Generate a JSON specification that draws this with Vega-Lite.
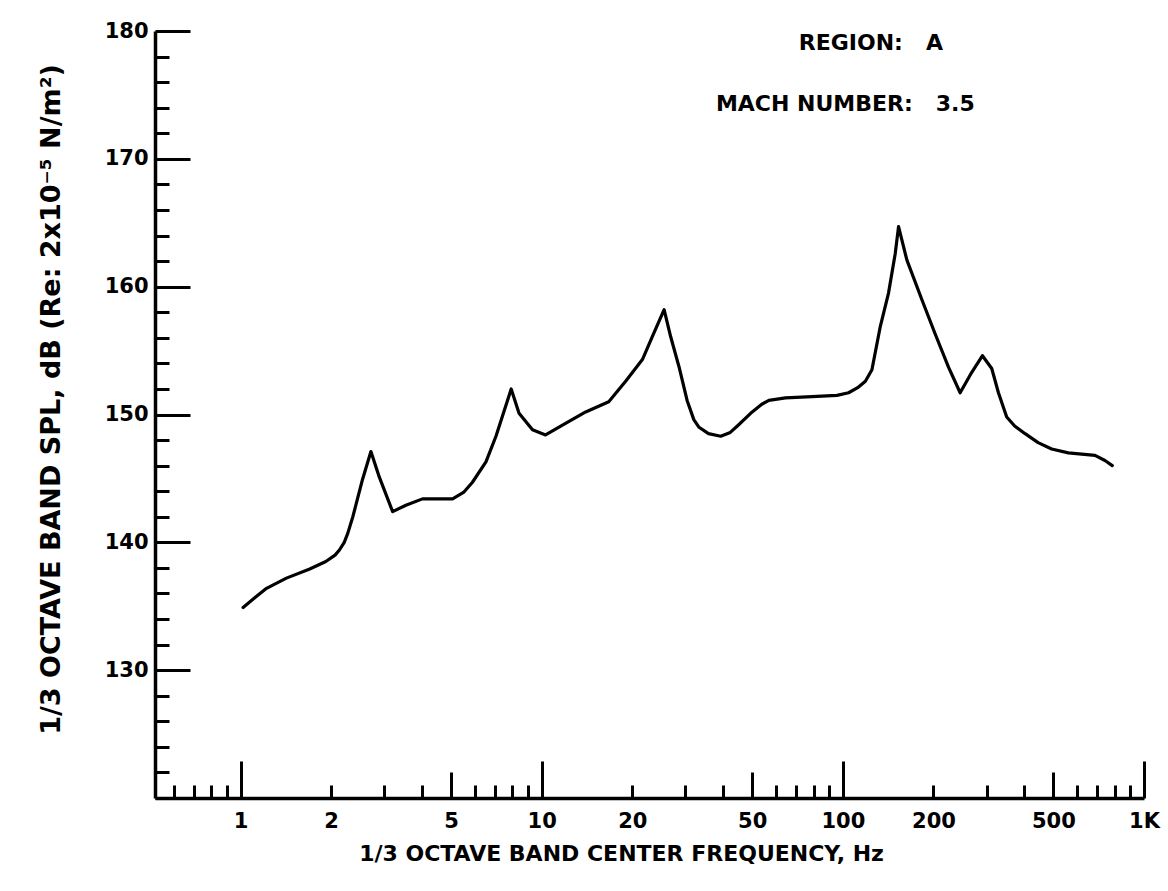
{
  "$schema": "https://vega.github.io/schema/vega-lite/v6.json",
  "width": 989,
  "height": 767,
  "autosize": {"type": "none"},
  "padding": {"left": 155, "top": 31, "right": 24, "bottom": 93},
  "background": "white",
  "config": {"view": {"stroke": null}, "font": "DejaVu Sans"},
  "datasets": {
    "spectrum": [
      {"freq_hz": 1.02, "spl_db": 134.9},
      {"freq_hz": 1.12, "spl_db": 135.7},
      {"freq_hz": 1.22, "spl_db": 136.4},
      {"freq_hz": 1.42, "spl_db": 137.2},
      {"freq_hz": 1.69, "spl_db": 137.9},
      {"freq_hz": 1.92, "spl_db": 138.5},
      {"freq_hz": 2.06, "spl_db": 139.0},
      {"freq_hz": 2.13, "spl_db": 139.4},
      {"freq_hz": 2.21, "spl_db": 140.0},
      {"freq_hz": 2.27, "spl_db": 140.7},
      {"freq_hz": 2.36, "spl_db": 142.0},
      {"freq_hz": 2.54, "spl_db": 144.9},
      {"freq_hz": 2.71, "spl_db": 147.1},
      {"freq_hz": 2.89, "spl_db": 145.1},
      {"freq_hz": 3.2, "spl_db": 142.4},
      {"freq_hz": 3.54, "spl_db": 142.9},
      {"freq_hz": 4.02, "spl_db": 143.4},
      {"freq_hz": 5.06, "spl_db": 143.4},
      {"freq_hz": 5.5, "spl_db": 143.9},
      {"freq_hz": 5.89, "spl_db": 144.7},
      {"freq_hz": 6.53, "spl_db": 146.3},
      {"freq_hz": 7.05, "spl_db": 148.3},
      {"freq_hz": 7.7, "spl_db": 151.1},
      {"freq_hz": 7.92, "spl_db": 152.0},
      {"freq_hz": 8.41, "spl_db": 150.1},
      {"freq_hz": 9.32, "spl_db": 148.8},
      {"freq_hz": 10.3, "spl_db": 148.4},
      {"freq_hz": 12.0, "spl_db": 149.3},
      {"freq_hz": 14.0, "spl_db": 150.2},
      {"freq_hz": 16.7, "spl_db": 151.0},
      {"freq_hz": 19.0, "spl_db": 152.6},
      {"freq_hz": 21.6, "spl_db": 154.3},
      {"freq_hz": 23.3, "spl_db": 156.1},
      {"freq_hz": 25.5, "spl_db": 158.2},
      {"freq_hz": 26.8, "spl_db": 156.1},
      {"freq_hz": 28.6, "spl_db": 153.7},
      {"freq_hz": 30.4, "spl_db": 151.1},
      {"freq_hz": 32.0, "spl_db": 149.6},
      {"freq_hz": 33.3, "spl_db": 149.0},
      {"freq_hz": 35.8, "spl_db": 148.5},
      {"freq_hz": 39.3, "spl_db": 148.3},
      {"freq_hz": 42.3, "spl_db": 148.6},
      {"freq_hz": 45.1, "spl_db": 149.2},
      {"freq_hz": 50.0, "spl_db": 150.2},
      {"freq_hz": 53.8, "spl_db": 150.8},
      {"freq_hz": 56.8, "spl_db": 151.1},
      {"freq_hz": 64.5, "spl_db": 151.3},
      {"freq_hz": 79.0, "spl_db": 151.4},
      {"freq_hz": 95.6, "spl_db": 151.5},
      {"freq_hz": 104.5, "spl_db": 151.7},
      {"freq_hz": 112.0, "spl_db": 152.1},
      {"freq_hz": 118.8, "spl_db": 152.6},
      {"freq_hz": 124.9, "spl_db": 153.5},
      {"freq_hz": 133.2, "spl_db": 156.9},
      {"freq_hz": 141.8, "spl_db": 159.5},
      {"freq_hz": 149.3, "spl_db": 162.6},
      {"freq_hz": 153.1, "spl_db": 164.7},
      {"freq_hz": 163.1, "spl_db": 162.1},
      {"freq_hz": 182.9, "spl_db": 159.0},
      {"freq_hz": 202.6, "spl_db": 156.3},
      {"freq_hz": 224.3, "spl_db": 153.7},
      {"freq_hz": 245.2, "spl_db": 151.7},
      {"freq_hz": 268.0, "spl_db": 153.3},
      {"freq_hz": 290.8, "spl_db": 154.6},
      {"freq_hz": 312.2, "spl_db": 153.6},
      {"freq_hz": 328.6, "spl_db": 151.7},
      {"freq_hz": 350.0, "spl_db": 149.8},
      {"freq_hz": 372.0, "spl_db": 149.1},
      {"freq_hz": 402.9, "spl_db": 148.5},
      {"freq_hz": 445.0, "spl_db": 147.8},
      {"freq_hz": 493.6, "spl_db": 147.3},
      {"freq_hz": 560.7, "spl_db": 147.0},
      {"freq_hz": 687.5, "spl_db": 146.8},
      {"freq_hz": 742.0, "spl_db": 146.4},
      {"freq_hz": 784.6, "spl_db": 146.0}
    ]
  },
  "layer": [
    {
      "data": {"name": "spectrum"},
      "mark": {"type": "line", "color": "black", "strokeWidth": 3.2, "strokeJoin": "round", "strokeCap": "round"},
      "encoding": {
        "x": {
          "field": "freq_hz",
          "type": "quantitative",
          "scale": {"type": "log", "domain": [0.52, 1000], "nice": false},
          "axis": {
            "values": [0.6, 0.7, 0.8, 0.9, 1, 2, 3, 4, 5, 6, 7, 8, 9, 10, 20, 30, 40, 50, 60, 70, 80, 90, 100, 200, 300, 400, 500, 600, 700, 800, 900, 1000],
            "tickCount": 100,
            "format": "d",
            "domainColor": "black",
            "domainWidth": 3.5,
            "tickColor": "black",
            "tickWidth": 3,
            "tickSize": {
              "condition": [
                {"test": "datum.value == 1 || datum.value == 10 || datum.value == 100 || datum.value == 1000", "value": -37},
                {"test": "datum.value == 5 || datum.value == 50 || datum.value == 500", "value": -26}
              ],
              "value": -13
            },
            "labelPadding": {
              "condition": [
                {"test": "datum.value == 1 || datum.value == 10 || datum.value == 100 || datum.value == 1000", "value": 49},
                {"test": "datum.value == 5 || datum.value == 50 || datum.value == 500", "value": 38}
              ],
              "value": 25
            },
            "labelExpr": "datum.value == 1000 ? '1K' : (indexof([1, 2, 5, 10, 20, 50, 100, 200, 500], datum.value) >= 0 ? datum.label : '')",
            "labelOverlap": false,
            "labelFlush": false,
            "labelBound": false,
            "labelFont": "DejaVu Sans",
            "labelFontSize": 21,
            "labelFontWeight": "bold",
            "labelColor": "black",
            "grid": false,
            "title": "1/3 OCTAVE BAND CENTER FREQUENCY, Hz",
            "titleFont": "DejaVu Sans",
            "titleFontSize": 22,
            "titleFontWeight": "bold",
            "titleColor": "black",
            "titlePadding": 12,
            "titleX": 466
          }
        },
        "y": {
          "field": "spl_db",
          "type": "quantitative",
          "scale": {"domain": [120, 180], "nice": false, "zero": false},
          "axis": {
            "values": [120, 122, 124, 126, 128, 130, 132, 134, 136, 138, 140, 142, 144, 146, 148, 150, 152, 154, 156, 158, 160, 162, 164, 166, 168, 170, 172, 174, 176, 178, 180],
            "tickCount": 100,
            "format": "d",
            "domainColor": "black",
            "domainWidth": 3.5,
            "tickColor": "black",
            "tickWidth": 3,
            "tickSize": {"condition": {"test": "datum.value % 10 == 0", "value": -35}, "value": -14},
            "labelPadding": 42,
            "labelExpr": "datum.value % 10 == 0 && datum.value > 120 ? datum.label : ''",
            "labelOverlap": false,
            "labelFlush": false,
            "labelBound": false,
            "labelFont": "DejaVu Sans",
            "labelFontSize": 21,
            "labelFontWeight": "bold",
            "labelColor": "black",
            "grid": false,
            "title": "1/3 OCTAVE BAND SPL, dB (Re: 2x10⁻⁵ N/m²)",
            "titleFont": "DejaVu Sans",
            "titleFontSize": 27,
            "titleFontWeight": "bold",
            "titleColor": "black",
            "titlePadding": 39,
            "titleY": 368
          }
        }
      }
    },
    {
      "data": {"values": [{"note": "REGION:\u00a0\u00a0\u00a0A"}]},
      "mark": {"type": "text", "align": "left", "baseline": "middle", "font": "DejaVu Sans", "fontSize": 22, "fontWeight": "bold", "color": "black"},
      "encoding": {
        "x": {"datum": 71.4, "type": "quantitative"},
        "y": {"datum": 179.1, "type": "quantitative"},
        "text": {"field": "note"}
      }
    },
    {
      "data": {"values": [{"note": "MACH NUMBER:\u00a0\u00a0\u00a03.5"}]},
      "mark": {"type": "text", "align": "left", "baseline": "middle", "font": "DejaVu Sans", "fontSize": 22, "fontWeight": "bold", "color": "black"},
      "encoding": {
        "x": {"datum": 37.9, "type": "quantitative"},
        "y": {"datum": 174.3, "type": "quantitative"},
        "text": {"field": "note"}
      }
    }
  ]
}
